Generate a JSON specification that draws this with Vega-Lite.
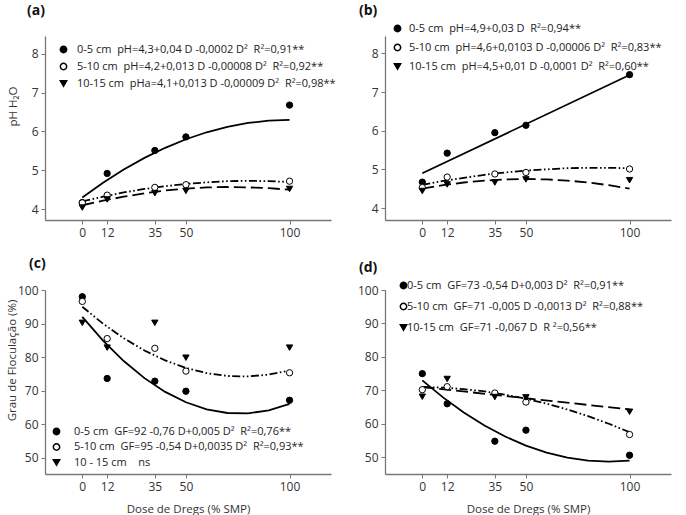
{
  "$schema": "https://vega.github.io/schema/vega-lite/v6.json",
  "padding": {"left": 5, "top": 4, "right": 5, "bottom": 5},
  "background": "white",
  "datasets": {
    "pts": [
      {"panel": "a", "depth": "0-5 cm", "dose": 0, "value": 4.17},
      {"panel": "a", "depth": "0-5 cm", "dose": 12, "value": 4.92},
      {"panel": "a", "depth": "0-5 cm", "dose": 35, "value": 5.51},
      {"panel": "a", "depth": "0-5 cm", "dose": 50, "value": 5.86},
      {"panel": "a", "depth": "0-5 cm", "dose": 100, "value": 6.68},
      {"panel": "a", "depth": "5-10 cm", "dose": 0, "value": 4.16},
      {"panel": "a", "depth": "5-10 cm", "dose": 12, "value": 4.36},
      {"panel": "a", "depth": "5-10 cm", "dose": 35, "value": 4.56},
      {"panel": "a", "depth": "5-10 cm", "dose": 50, "value": 4.63},
      {"panel": "a", "depth": "5-10 cm", "dose": 100, "value": 4.72},
      {"panel": "a", "depth": "10-15 cm", "dose": 0, "value": 4.04},
      {"panel": "a", "depth": "10-15 cm", "dose": 12, "value": 4.25},
      {"panel": "a", "depth": "10-15 cm", "dose": 35, "value": 4.41},
      {"panel": "a", "depth": "10-15 cm", "dose": 50, "value": 4.47},
      {"panel": "a", "depth": "10-15 cm", "dose": 100, "value": 4.52},
      {"panel": "b", "depth": "0-5 cm", "dose": 0, "value": 4.67},
      {"panel": "b", "depth": "0-5 cm", "dose": 12, "value": 5.42},
      {"panel": "b", "depth": "0-5 cm", "dose": 35, "value": 5.95},
      {"panel": "b", "depth": "0-5 cm", "dose": 50, "value": 6.14},
      {"panel": "b", "depth": "0-5 cm", "dose": 100, "value": 7.45},
      {"panel": "b", "depth": "5-10 cm", "dose": 0, "value": 4.53},
      {"panel": "b", "depth": "5-10 cm", "dose": 12, "value": 4.8},
      {"panel": "b", "depth": "5-10 cm", "dose": 35, "value": 4.88},
      {"panel": "b", "depth": "5-10 cm", "dose": 50, "value": 4.92},
      {"panel": "b", "depth": "5-10 cm", "dose": 100, "value": 5.01},
      {"panel": "b", "depth": "10-15 cm", "dose": 0, "value": 4.44},
      {"panel": "b", "depth": "10-15 cm", "dose": 12, "value": 4.61},
      {"panel": "b", "depth": "10-15 cm", "dose": 35, "value": 4.66},
      {"panel": "b", "depth": "10-15 cm", "dose": 50, "value": 4.74},
      {"panel": "b", "depth": "10-15 cm", "dose": 100, "value": 4.72},
      {"panel": "c", "depth": "0-5 cm", "dose": 0, "value": 98.0},
      {"panel": "c", "depth": "0-5 cm", "dose": 12, "value": 73.6},
      {"panel": "c", "depth": "0-5 cm", "dose": 35, "value": 72.8},
      {"panel": "c", "depth": "0-5 cm", "dose": 50, "value": 69.8},
      {"panel": "c", "depth": "0-5 cm", "dose": 100, "value": 67.1},
      {"panel": "c", "depth": "5-10 cm", "dose": 0, "value": 96.6},
      {"panel": "c", "depth": "5-10 cm", "dose": 12, "value": 85.5},
      {"panel": "c", "depth": "5-10 cm", "dose": 35, "value": 82.6},
      {"panel": "c", "depth": "5-10 cm", "dose": 50, "value": 75.8},
      {"panel": "c", "depth": "5-10 cm", "dose": 100, "value": 75.3},
      {"panel": "c", "depth": "10-15 cm", "dose": 0, "value": 90.2},
      {"panel": "c", "depth": "10-15 cm", "dose": 12, "value": 82.8},
      {"panel": "c", "depth": "10-15 cm", "dose": 35, "value": 90.2},
      {"panel": "c", "depth": "10-15 cm", "dose": 50, "value": 79.8},
      {"panel": "c", "depth": "10-15 cm", "dose": 100, "value": 82.8},
      {"panel": "d", "depth": "0-5 cm", "dose": 0, "value": 75.0},
      {"panel": "d", "depth": "0-5 cm", "dose": 12, "value": 66.0},
      {"panel": "d", "depth": "0-5 cm", "dose": 35, "value": 54.8},
      {"panel": "d", "depth": "0-5 cm", "dose": 50, "value": 58.1},
      {"panel": "d", "depth": "0-5 cm", "dose": 100, "value": 50.6},
      {"panel": "d", "depth": "5-10 cm", "dose": 0, "value": 70.2},
      {"panel": "d", "depth": "5-10 cm", "dose": 12, "value": 71.1},
      {"panel": "d", "depth": "5-10 cm", "dose": 35, "value": 69.2},
      {"panel": "d", "depth": "5-10 cm", "dose": 50, "value": 66.5},
      {"panel": "d", "depth": "5-10 cm", "dose": 100, "value": 56.8},
      {"panel": "d", "depth": "10-15 cm", "dose": 0, "value": 68.1},
      {"panel": "d", "depth": "10-15 cm", "dose": 12, "value": 73.4},
      {"panel": "d", "depth": "10-15 cm", "dose": 35, "value": 68.0},
      {"panel": "d", "depth": "10-15 cm", "dose": 50, "value": 67.9},
      {"panel": "d", "depth": "10-15 cm", "dose": 100, "value": 63.6}
    ],
    "fit": [
      {"panel": "a", "depth": "0-5 cm", "dose": 0, "value": 4.3},
      {"panel": "a", "depth": "0-5 cm", "dose": 10, "value": 4.68},
      {"panel": "a", "depth": "0-5 cm", "dose": 20, "value": 5.02},
      {"panel": "a", "depth": "0-5 cm", "dose": 30, "value": 5.32},
      {"panel": "a", "depth": "0-5 cm", "dose": 40, "value": 5.58},
      {"panel": "a", "depth": "0-5 cm", "dose": 50, "value": 5.8},
      {"panel": "a", "depth": "0-5 cm", "dose": 60, "value": 5.98},
      {"panel": "a", "depth": "0-5 cm", "dose": 70, "value": 6.12},
      {"panel": "a", "depth": "0-5 cm", "dose": 80, "value": 6.22},
      {"panel": "a", "depth": "0-5 cm", "dose": 90, "value": 6.28},
      {"panel": "a", "depth": "0-5 cm", "dose": 100, "value": 6.3},
      {"panel": "a", "depth": "5-10 cm", "dose": 0, "value": 4.2},
      {"panel": "a", "depth": "5-10 cm", "dose": 10, "value": 4.32},
      {"panel": "a", "depth": "5-10 cm", "dose": 20, "value": 4.43},
      {"panel": "a", "depth": "5-10 cm", "dose": 30, "value": 4.52},
      {"panel": "a", "depth": "5-10 cm", "dose": 40, "value": 4.59},
      {"panel": "a", "depth": "5-10 cm", "dose": 50, "value": 4.65},
      {"panel": "a", "depth": "5-10 cm", "dose": 60, "value": 4.69},
      {"panel": "a", "depth": "5-10 cm", "dose": 70, "value": 4.72},
      {"panel": "a", "depth": "5-10 cm", "dose": 80, "value": 4.73},
      {"panel": "a", "depth": "5-10 cm", "dose": 90, "value": 4.72},
      {"panel": "a", "depth": "5-10 cm", "dose": 100, "value": 4.7},
      {"panel": "a", "depth": "10-15 cm", "dose": 0, "value": 4.1},
      {"panel": "a", "depth": "10-15 cm", "dose": 10, "value": 4.22},
      {"panel": "a", "depth": "10-15 cm", "dose": 20, "value": 4.32},
      {"panel": "a", "depth": "10-15 cm", "dose": 30, "value": 4.41},
      {"panel": "a", "depth": "10-15 cm", "dose": 40, "value": 4.48},
      {"panel": "a", "depth": "10-15 cm", "dose": 50, "value": 4.53},
      {"panel": "a", "depth": "10-15 cm", "dose": 60, "value": 4.56},
      {"panel": "a", "depth": "10-15 cm", "dose": 70, "value": 4.57},
      {"panel": "a", "depth": "10-15 cm", "dose": 80, "value": 4.56},
      {"panel": "a", "depth": "10-15 cm", "dose": 90, "value": 4.54},
      {"panel": "a", "depth": "10-15 cm", "dose": 100, "value": 4.5},
      {"panel": "b", "depth": "0-5 cm", "dose": 0, "value": 4.9},
      {"panel": "b", "depth": "0-5 cm", "dose": 100, "value": 7.44},
      {"panel": "b", "depth": "5-10 cm", "dose": 0, "value": 4.6},
      {"panel": "b", "depth": "5-10 cm", "dose": 10, "value": 4.7},
      {"panel": "b", "depth": "5-10 cm", "dose": 20, "value": 4.78},
      {"panel": "b", "depth": "5-10 cm", "dose": 30, "value": 4.86},
      {"panel": "b", "depth": "5-10 cm", "dose": 40, "value": 4.92},
      {"panel": "b", "depth": "5-10 cm", "dose": 50, "value": 4.97},
      {"panel": "b", "depth": "5-10 cm", "dose": 60, "value": 5.0},
      {"panel": "b", "depth": "5-10 cm", "dose": 70, "value": 5.03},
      {"panel": "b", "depth": "5-10 cm", "dose": 80, "value": 5.04},
      {"panel": "b", "depth": "5-10 cm", "dose": 90, "value": 5.04},
      {"panel": "b", "depth": "5-10 cm", "dose": 100, "value": 5.03},
      {"panel": "b", "depth": "10-15 cm", "dose": 0, "value": 4.5},
      {"panel": "b", "depth": "10-15 cm", "dose": 10, "value": 4.59},
      {"panel": "b", "depth": "10-15 cm", "dose": 20, "value": 4.66},
      {"panel": "b", "depth": "10-15 cm", "dose": 30, "value": 4.71},
      {"panel": "b", "depth": "10-15 cm", "dose": 40, "value": 4.74},
      {"panel": "b", "depth": "10-15 cm", "dose": 50, "value": 4.75},
      {"panel": "b", "depth": "10-15 cm", "dose": 60, "value": 4.74},
      {"panel": "b", "depth": "10-15 cm", "dose": 70, "value": 4.71},
      {"panel": "b", "depth": "10-15 cm", "dose": 80, "value": 4.66},
      {"panel": "b", "depth": "10-15 cm", "dose": 90, "value": 4.59},
      {"panel": "b", "depth": "10-15 cm", "dose": 100, "value": 4.5},
      {"panel": "c", "depth": "0-5 cm", "dose": 0, "value": 92.0},
      {"panel": "c", "depth": "0-5 cm", "dose": 10, "value": 84.9},
      {"panel": "c", "depth": "0-5 cm", "dose": 20, "value": 78.8},
      {"panel": "c", "depth": "0-5 cm", "dose": 30, "value": 73.7},
      {"panel": "c", "depth": "0-5 cm", "dose": 40, "value": 69.6},
      {"panel": "c", "depth": "0-5 cm", "dose": 50, "value": 66.5},
      {"panel": "c", "depth": "0-5 cm", "dose": 60, "value": 64.4},
      {"panel": "c", "depth": "0-5 cm", "dose": 70, "value": 63.3},
      {"panel": "c", "depth": "0-5 cm", "dose": 80, "value": 63.2},
      {"panel": "c", "depth": "0-5 cm", "dose": 90, "value": 64.1},
      {"panel": "c", "depth": "0-5 cm", "dose": 100, "value": 66.0},
      {"panel": "c", "depth": "5-10 cm", "dose": 0, "value": 95.0},
      {"panel": "c", "depth": "5-10 cm", "dose": 10, "value": 89.95},
      {"panel": "c", "depth": "5-10 cm", "dose": 20, "value": 85.6},
      {"panel": "c", "depth": "5-10 cm", "dose": 30, "value": 81.95},
      {"panel": "c", "depth": "5-10 cm", "dose": 40, "value": 79.0},
      {"panel": "c", "depth": "5-10 cm", "dose": 50, "value": 76.75},
      {"panel": "c", "depth": "5-10 cm", "dose": 60, "value": 75.2},
      {"panel": "c", "depth": "5-10 cm", "dose": 70, "value": 74.35},
      {"panel": "c", "depth": "5-10 cm", "dose": 80, "value": 74.2},
      {"panel": "c", "depth": "5-10 cm", "dose": 90, "value": 74.75},
      {"panel": "c", "depth": "5-10 cm", "dose": 100, "value": 76.0},
      {"panel": "d", "depth": "0-5 cm", "dose": 0, "value": 73.0},
      {"panel": "d", "depth": "0-5 cm", "dose": 10, "value": 67.9},
      {"panel": "d", "depth": "0-5 cm", "dose": 20, "value": 63.4},
      {"panel": "d", "depth": "0-5 cm", "dose": 30, "value": 59.5},
      {"panel": "d", "depth": "0-5 cm", "dose": 40, "value": 56.2},
      {"panel": "d", "depth": "0-5 cm", "dose": 50, "value": 53.5},
      {"panel": "d", "depth": "0-5 cm", "dose": 60, "value": 51.4},
      {"panel": "d", "depth": "0-5 cm", "dose": 70, "value": 49.9},
      {"panel": "d", "depth": "0-5 cm", "dose": 80, "value": 49.0},
      {"panel": "d", "depth": "0-5 cm", "dose": 90, "value": 48.7},
      {"panel": "d", "depth": "0-5 cm", "dose": 100, "value": 49.0},
      {"panel": "d", "depth": "5-10 cm", "dose": 0, "value": 71.0},
      {"panel": "d", "depth": "5-10 cm", "dose": 10, "value": 70.82},
      {"panel": "d", "depth": "5-10 cm", "dose": 20, "value": 70.38},
      {"panel": "d", "depth": "5-10 cm", "dose": 30, "value": 69.68},
      {"panel": "d", "depth": "5-10 cm", "dose": 40, "value": 68.72},
      {"panel": "d", "depth": "5-10 cm", "dose": 50, "value": 67.5},
      {"panel": "d", "depth": "5-10 cm", "dose": 60, "value": 66.02},
      {"panel": "d", "depth": "5-10 cm", "dose": 70, "value": 64.28},
      {"panel": "d", "depth": "5-10 cm", "dose": 80, "value": 62.28},
      {"panel": "d", "depth": "5-10 cm", "dose": 90, "value": 60.02},
      {"panel": "d", "depth": "5-10 cm", "dose": 100, "value": 57.5},
      {"panel": "d", "depth": "10-15 cm", "dose": 0, "value": 71.0},
      {"panel": "d", "depth": "10-15 cm", "dose": 100, "value": 64.3}
    ]
  },
  "columns": 2,
  "spacing": {"column": 54, "row": 70},
  "bounds": "flush",
  "resolve": {"scale": {"x": "independent", "y": "independent", "shape": "independent", "fill": "independent"}},
  "concat": [
    {
      "width": 286, "height": 184,
      "title": {"text": "(a)", "dx": -18, "offset": 18},
      "layer": [
        {
          "data": {"name": "fit"},
          "transform": [{"filter": "datum.panel == 'a' && datum.depth == '0-5 cm'"}],
          "mark": {"type": "line", "color": "black", "strokeWidth": 1.8},
          "encoding": {
            "x": {"field": "dose", "type": "quantitative", "scale": {"domain": [-18, 120], "nice": false, "zero": false}, "axis": {"values": [0, 12, 35, 50, 100], "tickCount": 10, "format": "d", "title": null, "labelOverlap": false}},
            "y": {"field": "value", "type": "quantitative", "scale": {"domain": [3.72, 8.46], "nice": false, "zero": false}, "axis": {"values": [4, 5, 6, 7, 8], "tickCount": 10, "format": "d", "title": "pH H₂O", "titleX": -27, "titleY": 70, "labelOverlap": false}}
          }
        },
        {
          "data": {"name": "fit"},
          "transform": [{"filter": "datum.panel == 'a' && datum.depth == '5-10 cm'"}],
          "mark": {"type": "line", "color": "black", "strokeWidth": 1.8, "strokeDash": [8, 2.5, 1.6, 2.5, 1.6, 2.5]},
          "encoding": {
            "x": {"field": "dose", "type": "quantitative"},
            "y": {"field": "value", "type": "quantitative"}
          }
        },
        {
          "data": {"name": "fit"},
          "transform": [{"filter": "datum.panel == 'a' && datum.depth == '10-15 cm'"}],
          "mark": {"type": "line", "color": "black", "strokeWidth": 1.8, "strokeDash": [12, 5]},
          "encoding": {
            "x": {"field": "dose", "type": "quantitative"},
            "y": {"field": "value", "type": "quantitative"}
          }
        },
        {
          "data": {"name": "pts"},
          "transform": [{"filter": "datum.panel == 'a'"}],
          "mark": {"type": "point", "stroke": "black", "strokeWidth": 1, "size": 40, "opacity": 1, "fillOpacity": 1},
          "encoding": {
            "x": {"field": "dose", "type": "quantitative"},
            "y": {"field": "value", "type": "quantitative"},
            "fill": {"field": "depth", "type": "nominal", "scale": {"domain": ["0-5 cm", "5-10 cm", "10-15 cm"], "range": ["black", "white", "black"]}, "legend": null},
            "shape": {"field": "depth", "type": "nominal", "scale": {"domain": ["0-5 cm", "5-10 cm", "10-15 cm"], "range": ["circle", "circle", "triangle-down"]},
              "legend": {"orient": "none", "legendX": 13, "legendY": 8, "title": null, "rowPadding": 4, "labelOffset": 8, "symbolSize": 40,
                "labelExpr": "datum.label == '0-5 cm' ? '0-5 cm\u00a0\u00a0pH=4,3+0,04 D -0,0002 D²\u00a0\u00a0R²=0,91**' : datum.label == '5-10 cm' ? '5-10 cm\u00a0\u00a0pH=4,2+0,013 D -0,00008 D²\u00a0\u00a0R²=0,92**' : '10-15 cm\u00a0\u00a0pHa=4,1+0,013 D -0,00009 D²\u00a0\u00a0R²=0,98**'",
                "encode": {"symbols": {"update": {"fill": {"signal": "datum.value == '5-10 cm' ? 'white' : 'black'"}, "stroke": {"value": "black"}, "strokeWidth": {"value": 1}, "opacity": {"value": 1}}}}}}
          }
        }
      ]
    },
    {
      "width": 286, "height": 184,
      "title": {"text": "(b)", "dx": -26, "offset": 5},
      "layer": [
        {
          "data": {"name": "fit"},
          "transform": [{"filter": "datum.panel == 'b' && datum.depth == '0-5 cm'"}],
          "mark": {"type": "line", "color": "black", "strokeWidth": 1.8},
          "encoding": {
            "x": {"field": "dose", "type": "quantitative", "scale": {"domain": [-18, 120], "nice": false, "zero": false}, "axis": {"values": [0, 12, 35, 50, 100], "tickCount": 10, "format": "d", "title": null, "labelOverlap": false}},
            "y": {"field": "value", "type": "quantitative", "scale": {"domain": [3.69, 8.45], "nice": false, "zero": false}, "axis": {"values": [4, 5, 6, 7, 8], "tickCount": 10, "format": "d", "title": null, "labelOverlap": false}}
          }
        },
        {
          "data": {"name": "fit"},
          "transform": [{"filter": "datum.panel == 'b' && datum.depth == '5-10 cm'"}],
          "mark": {"type": "line", "color": "black", "strokeWidth": 1.8, "strokeDash": [8, 2.5, 1.6, 2.5, 1.6, 2.5]},
          "encoding": {
            "x": {"field": "dose", "type": "quantitative"},
            "y": {"field": "value", "type": "quantitative"}
          }
        },
        {
          "data": {"name": "fit"},
          "transform": [{"filter": "datum.panel == 'b' && datum.depth == '10-15 cm'"}],
          "mark": {"type": "line", "color": "black", "strokeWidth": 1.8, "strokeDash": [12, 5]},
          "encoding": {
            "x": {"field": "dose", "type": "quantitative"},
            "y": {"field": "value", "type": "quantitative"}
          }
        },
        {
          "data": {"name": "pts"},
          "transform": [{"filter": "datum.panel == 'b'"}],
          "mark": {"type": "point", "stroke": "black", "strokeWidth": 1, "size": 40, "opacity": 1, "fillOpacity": 1},
          "encoding": {
            "x": {"field": "dose", "type": "quantitative"},
            "y": {"field": "value", "type": "quantitative"},
            "fill": {"field": "depth", "type": "nominal", "scale": {"domain": ["0-5 cm", "5-10 cm", "10-15 cm"], "range": ["black", "white", "black"]}, "legend": null},
            "shape": {"field": "depth", "type": "nominal", "scale": {"domain": ["0-5 cm", "5-10 cm", "10-15 cm"], "range": ["circle", "circle", "triangle-down"]},
              "legend": {"orient": "none", "legendX": 7, "legendY": -13, "title": null, "rowPadding": 6, "labelOffset": 6, "symbolSize": 40,
                "labelExpr": "datum.label == '0-5 cm' ? '0-5 cm\u00a0\u00a0pH=4,9+0,03 D\u00a0\u00a0R²=0,94**' : datum.label == '5-10 cm' ? '5-10 cm\u00a0\u00a0pH=4,6+0,0103 D -0,00006 D²\u00a0\u00a0R²=0,83**' : '10-15 cm\u00a0\u00a0pH=4,5+0,01 D -0,0001 D²\u00a0\u00a0R²=0,60**'",
                "encode": {"symbols": {"update": {"fill": {"signal": "datum.value == '5-10 cm' ? 'white' : 'black'"}, "stroke": {"value": "black"}, "strokeWidth": {"value": 1}, "opacity": {"value": 1}}}}}}
          }
        }
      ]
    },
    {
      "width": 286, "height": 184,
      "title": {"text": "(c)", "dx": -16, "offset": 13},
      "layer": [
        {
          "data": {"name": "fit"},
          "transform": [{"filter": "datum.panel == 'c' && datum.depth == '0-5 cm'"}],
          "mark": {"type": "line", "color": "black", "strokeWidth": 1.8},
          "encoding": {
            "x": {"field": "dose", "type": "quantitative", "scale": {"domain": [-18, 120], "nice": false, "zero": false}, "axis": {"values": [0, 12, 35, 50, 100], "tickCount": 10, "format": "d", "title": "Dose de Dregs (% SMP)", "titlePadding": 11, "labelOverlap": false}},
            "y": {"field": "value", "type": "quantitative", "scale": {"domain": [45.1, 100], "nice": false, "zero": false}, "axis": {"values": [50, 60, 70, 80, 90, 100], "tickCount": 10, "format": "d", "title": "Grau de Floculação (%)", "titleX": -28, "titleY": 70, "labelOverlap": false}}
          }
        },
        {
          "data": {"name": "fit"},
          "transform": [{"filter": "datum.panel == 'c' && datum.depth == '5-10 cm'"}],
          "mark": {"type": "line", "color": "black", "strokeWidth": 1.8, "strokeDash": [8, 2.5, 1.6, 2.5, 1.6, 2.5]},
          "encoding": {
            "x": {"field": "dose", "type": "quantitative"},
            "y": {"field": "value", "type": "quantitative"}
          }
        },
        {
          "data": {"name": "pts"},
          "transform": [{"filter": "datum.panel == 'c'"}],
          "mark": {"type": "point", "stroke": "black", "strokeWidth": 1, "size": 40, "opacity": 1, "fillOpacity": 1},
          "encoding": {
            "x": {"field": "dose", "type": "quantitative"},
            "y": {"field": "value", "type": "quantitative"},
            "fill": {"field": "depth", "type": "nominal", "scale": {"domain": ["0-5 cm", "5-10 cm", "10-15 cm"], "range": ["black", "white", "black"]}, "legend": null},
            "shape": {"field": "depth", "type": "nominal", "scale": {"domain": ["0-5 cm", "5-10 cm", "10-15 cm"], "range": ["circle", "circle", "triangle-down"]},
              "legend": {"orient": "none", "legendX": 6, "legendY": 136, "title": null, "rowPadding": 2.5, "labelOffset": 12, "symbolSize": 40,
                "labelExpr": "datum.label == '0-5 cm' ? '0-5 cm\u00a0\u00a0GF=92 -0,76 D+0,005 D²\u00a0\u00a0R²=0,76**' : datum.label == '5-10 cm' ? '5-10 cm\u00a0\u00a0GF=95 -0,54 D+0,0035 D²\u00a0\u00a0R²=0,93**' : '10 - 15 cm\u00a0\u00a0\u00a0\u00a0ns'",
                "encode": {"symbols": {"update": {"fill": {"signal": "datum.value == '5-10 cm' ? 'white' : 'black'"}, "stroke": {"value": "black"}, "strokeWidth": {"value": 1}, "opacity": {"value": 1}}}}}}
          }
        }
      ]
    },
    {
      "width": 286, "height": 184,
      "title": {"text": "(d)", "dx": -26, "offset": 5},
      "layer": [
        {
          "data": {"name": "fit"},
          "transform": [{"filter": "datum.panel == 'd' && datum.depth == '0-5 cm'"}],
          "mark": {"type": "line", "color": "black", "strokeWidth": 1.8},
          "encoding": {
            "x": {"field": "dose", "type": "quantitative", "scale": {"domain": [-18, 120], "nice": false, "zero": false}, "axis": {"values": [0, 12, 35, 50, 100], "tickCount": 10, "format": "d", "title": "Dose de Dregs (% SMP)", "titlePadding": 11, "labelOverlap": false}},
            "y": {"field": "value", "type": "quantitative", "scale": {"domain": [45, 100], "nice": false, "zero": false}, "axis": {"values": [50, 60, 70, 80, 90, 100], "tickCount": 10, "format": "d", "title": null, "labelOverlap": false}}
          }
        },
        {
          "data": {"name": "fit"},
          "transform": [{"filter": "datum.panel == 'd' && datum.depth == '5-10 cm'"}],
          "mark": {"type": "line", "color": "black", "strokeWidth": 1.8, "strokeDash": [8, 2.5, 1.6, 2.5, 1.6, 2.5]},
          "encoding": {
            "x": {"field": "dose", "type": "quantitative"},
            "y": {"field": "value", "type": "quantitative"}
          }
        },
        {
          "data": {"name": "fit"},
          "transform": [{"filter": "datum.panel == 'd' && datum.depth == '10-15 cm'"}],
          "mark": {"type": "line", "color": "black", "strokeWidth": 1.8, "strokeDash": [12, 5]},
          "encoding": {
            "x": {"field": "dose", "type": "quantitative"},
            "y": {"field": "value", "type": "quantitative"}
          }
        },
        {
          "data": {"name": "pts"},
          "transform": [{"filter": "datum.panel == 'd'"}],
          "mark": {"type": "point", "stroke": "black", "strokeWidth": 1, "size": 40, "opacity": 1, "fillOpacity": 1},
          "encoding": {
            "x": {"field": "dose", "type": "quantitative"},
            "y": {"field": "value", "type": "quantitative"},
            "fill": {"field": "depth", "type": "nominal", "scale": {"domain": ["0-5 cm", "5-10 cm", "10-15 cm"], "range": ["black", "white", "black"]}, "legend": null},
            "shape": {"field": "depth", "type": "nominal", "scale": {"domain": ["0-5 cm", "5-10 cm", "10-15 cm"], "range": ["circle", "circle", "triangle-down"]},
              "legend": {"orient": "none", "legendX": 13, "legendY": -10, "title": null, "rowPadding": 8, "labelOffset": -2, "symbolSize": 40,
                "labelExpr": "datum.label == '0-5 cm' ? '0-5 cm\u00a0\u00a0GF=73 -0,54 D+0,003 D²\u00a0\u00a0R²=0,91**' : datum.label == '5-10 cm' ? '5-10 cm\u00a0\u00a0GF=71 -0,005 D -0,0013 D²\u00a0\u00a0R²=0,88**' : '10-15 cm\u00a0\u00a0GF=71 -0,067 D\u00a0\u00a0R ²=0,56**'",
                "encode": {"symbols": {"update": {"fill": {"signal": "datum.value == '5-10 cm' ? 'white' : 'black'"}, "stroke": {"value": "black"}, "strokeWidth": {"value": 1}, "opacity": {"value": 1}}}}}}
          }
        }
      ]
    }
  ],
  "config": {
    "font": "Open Sans",
    "view": {"stroke": null},
    "axis": {"grid": false, "domainColor": "#777", "tickColor": "#777", "labelColor": "#333", "labelFontSize": 12, "labelOverlap": false, "titleFontSize": 11.5, "titleFontWeight": "normal", "titleColor": "#333", "tickSize": 4, "labelPadding": 3, "domainWidth": 1.3, "tickWidth": 1},
    "legend": {"labelFontSize": 11, "labelColor": "#222", "labelLimit": 600},
    "title": {"fontSize": 14, "fontWeight": "bold", "anchor": "start", "frame": "group", "color": "#111"}
  }
}
